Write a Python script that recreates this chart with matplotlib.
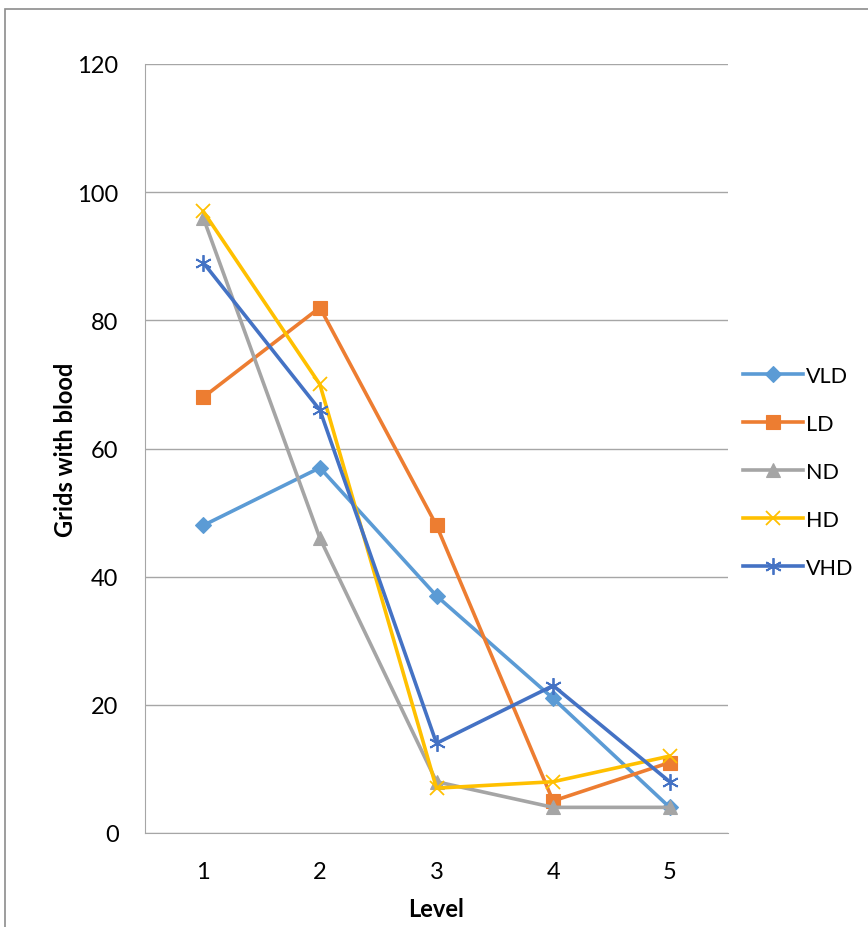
import numpy as np
import matplotlib.pyplot as plt
from matplotlib.patches import Rectangle

plt.rcParams['font.family'] = ['Lato', 'DejaVu Sans']

levels = [1, 2, 3, 4, 5]
vld = [48, 57, 37, 21, 4]
ld = [68, 82, 48, 5, 11]
nd = [96, 46, 8, 4, 4]
hd = [97, 70, 7, 8, 12]
vhd = [89, 66, 14, 23, 8]

series = [
    ("VLD", vld, "#5B9BD5", "D", 8),
    ("LD", ld, "#ED7D31", "s", 10),
    ("ND", nd, "#A5A5A5", "^", 10),
    ("HD", hd, "#FFC000", "x", 10),
    ("VHD", vhd, "#4472C4", (6, 2, 0), 12),
]

fig = plt.figure(figsize=(8.68, 9.28), dpi=100)
ax = fig.add_axes([145 / 868, 1 - 834 / 928, (728 - 145) / 868, (834 - 65) / 928])

for name, vals, col, mk, ms in series:
    ax.plot(levels, vals, color=col, lw=2.6, marker=mk, markersize=ms,
            markeredgewidth=1.3 if mk in ("x", (6, 2, 0)) else 0.8,
            markeredgecolor=col, label=name)

ax.set_xlim(0.5, 5.5)
ax.set_ylim(0, 120)
ax.set_yticks(np.arange(0, 121, 20))
ax.set_xticks(levels)
ax.grid(axis='y', color='#A6A6A6', lw=1)
ax.set_axisbelow(True)
for s in ['top', 'right']:
    ax.spines[s].set_visible(False)
ax.spines['left'].set_color('#A6A6A6')
ax.spines['bottom'].set_color('#A6A6A6')
ax.tick_params(length=0, labelsize=17)
ax.tick_params(axis='y', pad=19)
ax.tick_params(axis='x', pad=20)

ax.set_ylabel("Grids with blood", fontsize=17, fontweight='bold', labelpad=0)
ax.set_xlabel("Level", fontsize=17, fontweight='bold', labelpad=11)

ax.legend(loc='center left', bbox_to_anchor=(1.0, 0.47), frameon=False,
          fontsize=15.5, handlelength=2.8, labelspacing=1.3, handletextpad=0.1,
          borderaxespad=0.3)

fig.patches.append(Rectangle((5 / 868, -0.1), 2, (918 / 928) + 0.1,
                             transform=fig.transFigure, fill=False,
                             edgecolor='#8C8C8C', lw=1.2, clip_on=False))

fig.savefig("out.png", dpi=100)
